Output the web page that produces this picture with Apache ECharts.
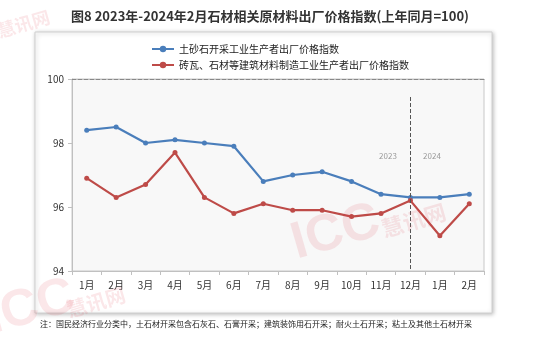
<!DOCTYPE html>
<html>
<head>
<meta charset="utf-8">
<script src="https://cdn.jsdelivr.net/npm/echarts@6/dist/echarts.min.js"></script>
<style>
html,body{margin:0;padding:0;background:#fff;}
#chart{width:540px;height:348px;}
</style>
</head>
<body>
<div id="chart"></div>
<script>
// Month labels: Jan–Dec 2023, then Jan–Feb 2024
const months = ['1月','2月','3月','4月','5月','6月','7月','8月','9月','10月','11月','12月','1月','2月'];
// Ex-factory price index, same month of previous year = 100
const quarryIndex = [98.4, 98.5, 98.0, 98.1, 98.0, 97.9, 96.8, 97.0, 97.1, 96.8, 96.4, 96.3, 96.3, 96.4];
const brickStoneIndex = [96.9, 96.3, 96.7, 97.7, 96.3, 95.8, 96.1, 95.9, 95.9, 95.7, 95.8, 96.2, 95.1, 96.1];
const yTicks = {min: 94, max: 100, interval: 2};
const yearLabels = ['2023', '2024'];

const font = '"Microsoft YaHei","Noto Sans CJK SC",sans-serif';
const chart = echarts.init(document.getElementById('chart'), null, {renderer: 'canvas'});

chart.setOption({
  backgroundColor: '#fff',
  animation: false,
  title: {
    text: '图8 2023年-2024年2月石材相关原材料出厂价格指数(上年同月=100)',
    left: 'center', top: 5,
    textStyle: {fontSize: 13, fontWeight: 'bold', color: '#333', fontFamily: font}
  },
  graphic: [
    {type: 'rect', z: -10, shape: {x: 35, y: 32, width: 457, height: 281},
     style: {fill: '#fff', stroke: '#d0d0d0', lineWidth: 1, shadowBlur: 4, shadowColor: 'rgba(0,0,0,0.25)', shadowOffsetX: 1, shadowOffsetY: 1}},
    {type: 'text', left: 40, top: 320,
     style: {text: '注：国民经济行业分类中，土石材开采包含石灰石、石膏开采；建筑装饰用石开采；耐火土石开采；粘土及其他土石材开采',
             fontSize: 8, fill: '#222', fontFamily: font}},
    {type: 'text', x: 388, y: 152, style: {text: yearLabels[0], fontSize: 8, fill: '#999', textAlign: 'center', fontFamily: font}},
    {type: 'text', x: 432, y: 152, style: {text: yearLabels[1], fontSize: 8, fill: '#999', textAlign: 'center', fontFamily: font}},
    {type: 'text', x: 300, y: 270, rotation: 0.28, z: 100,
     style: {text: 'ICC', fontSize: 52, fontWeight: 'bold', fill: 'rgba(220,60,70,0.12)', fontFamily: 'Arial', textVerticalAlign: 'bottom'}},
    {type: 'text', x: 385, y: 240, rotation: 0.28, z: 100,
     style: {text: '慧讯网', fontSize: 22, fontWeight: 'bold', fill: 'rgba(220,60,70,0.12)', fontFamily: font, textVerticalAlign: 'bottom'}},
    {type: 'text', x: 0, y: 40, rotation: 0.28, z: 100,
     style: {text: '慧讯网', fontSize: 18, fontWeight: 'bold', fill: 'rgba(220,60,70,0.12)', fontFamily: font, textVerticalAlign: 'bottom'}},
    {type: 'text', x: -5, y: 345, rotation: 0.28, z: 100,
     style: {text: 'ICC', fontSize: 52, fontWeight: 'bold', fill: 'rgba(220,60,70,0.12)', fontFamily: 'Arial', textVerticalAlign: 'bottom'}},
    {type: 'text', x: 70, y: 320, rotation: 0.28, z: 100,
     style: {text: '慧讯网', fontSize: 20, fontWeight: 'bold', fill: 'rgba(220,60,70,0.12)', fontFamily: font, textVerticalAlign: 'bottom'}}
  ],
  legend: {
    orient: 'vertical', left: 146, top: 39, itemGap: 6,
    itemWidth: 22, itemHeight: 8,
    textStyle: {fontSize: 10, color: '#222', fontFamily: font},
    data: ['土砂石开采工业生产者出厂价格指数', '砖瓦、石材等建筑材料制造工业生产者出厂价格指数']
  },
  grid: {left: 72, right: 56, top: 79, bottom: 77, show: true, backgroundColor: '#f8f8f8', borderColor: '#c8c8c8', borderWidth: 1},
  xAxis: [{
    type: 'category', data: months, boundaryGap: true,
    axisLine: {lineStyle: {color: '#c0c0c0'}},
    axisTick: {show: true, length: 4, lineStyle: {color: '#c0c0c0'}},
    axisLabel: {fontSize: 10, color: '#333', margin: 9, fontFamily: font}
  }, {
    type: 'category', data: months, position: 'top',
    axisLine: {show: true, lineStyle: {color: '#888', type: 'dashed'}},
    axisTick: {show: false}, axisLabel: {show: false}
  }],
  yAxis: {
    type: 'value', min: yTicks.min, max: yTicks.max, interval: yTicks.interval,
    axisLine: {show: true, lineStyle: {color: '#c0c0c0'}},
    axisTick: {show: true, length: 4, lineStyle: {color: '#c0c0c0'}},
    splitLine: {show: false},
    axisLabel: {fontSize: 10, color: '#333', margin: 8, fontFamily: font}
  },
  series: [{
    name: '土砂石开采工业生产者出厂价格指数', type: 'line', data: quarryIndex,
    color: '#4a7ebb', symbol: 'circle', symbolSize: 5,
    lineStyle: {width: 2.2},
    markLine: {
      silent: true, symbol: 'none', label: {show: false},
      lineStyle: {type: 'dashed', color: '#555', width: 1},
      data: [[{xAxis: 11, y: 97}, {xAxis: 11, y: 271}]]
    }
  }, {
    name: '砖瓦、石材等建筑材料制造工业生产者出厂价格指数', type: 'line', data: brickStoneIndex,
    color: '#be4b48', symbol: 'circle', symbolSize: 5,
    lineStyle: {width: 2.2}
  }]
});
</script>
</body>
</html>
